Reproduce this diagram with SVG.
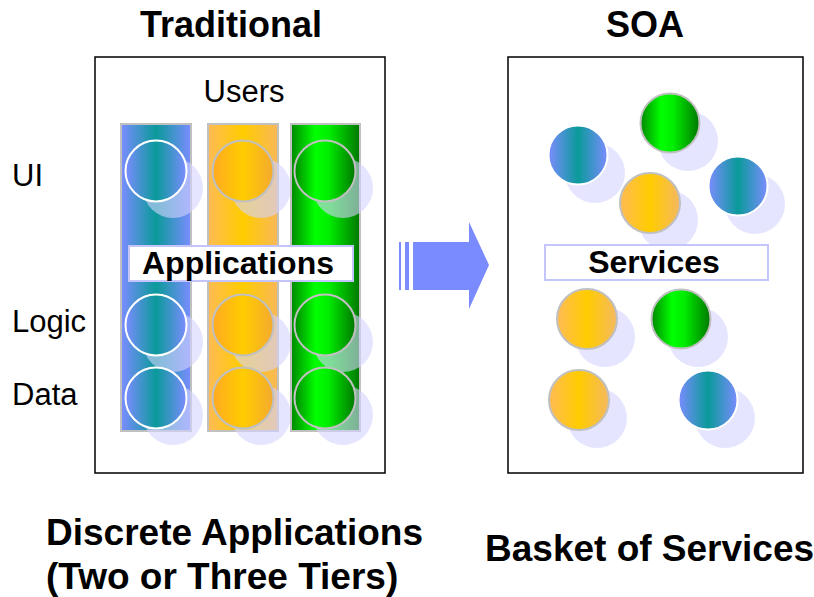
<svg xmlns="http://www.w3.org/2000/svg" width="814" height="597" viewBox="0 0 814 597">
  <defs>
    <linearGradient id="gBlue" x1="0" y1="0" x2="1" y2="0">
      <stop offset="0" stop-color="#7b8cff"/>
      <stop offset="0.5" stop-color="#0a9a9a"/>
      <stop offset="1" stop-color="#7b8cff"/>
    </linearGradient>
    <linearGradient id="gOrangeCol" x1="0" y1="0" x2="1" y2="0">
      <stop offset="0" stop-color="#ffbb55"/>
      <stop offset="0.5" stop-color="#ffcc00"/>
      <stop offset="1" stop-color="#f8b858"/>
    </linearGradient>
    <linearGradient id="gOrange" x1="0" y1="0" x2="1" y2="0">
      <stop offset="0" stop-color="#ffaa22"/>
      <stop offset="0.5" stop-color="#ffcc00"/>
      <stop offset="1" stop-color="#f4aa30"/>
    </linearGradient>
    <linearGradient id="gOrangeSoa" x1="0" y1="0" x2="1" y2="0">
      <stop offset="0" stop-color="#ffbb55"/>
      <stop offset="0.5" stop-color="#ffcc00"/>
      <stop offset="1" stop-color="#f4b860"/>
    </linearGradient>
    <linearGradient id="gGreen" x1="0" y1="0" x2="1" y2="0">
      <stop offset="0" stop-color="#008800"/>
      <stop offset="0.35" stop-color="#00ff00"/>
      <stop offset="0.55" stop-color="#00ee00"/>
      <stop offset="1" stop-color="#007700"/>
    </linearGradient>
    <circle id="shadow" r="30" fill="#d4d4ff" fill-opacity="0.6"/>
  </defs>
  <style>
    .title { font-family: "Liberation Sans", Arial, sans-serif; font-weight: bold; font-size: 36px; fill: #000; }
    .caption { font-family: "Liberation Sans", Arial, sans-serif; font-weight: bold; font-size: 37px; fill: #000; }
    .label { font-family: "Liberation Sans", Arial, sans-serif; font-size: 31px; fill: #000; }
    .boxlabel { font-family: "Liberation Sans", Arial, sans-serif; font-weight: bold; font-size: 32px; fill: #000; }
    .frame { fill: #fff; stroke: #000; stroke-width: 1.5; }
    .col { stroke: #c0c0c0; stroke-width: 2; }
    .cb { fill: url(#gBlue); stroke: #fff; stroke-width: 2; }
    .co { fill: url(#gOrange); stroke: #c0c0c0; stroke-width: 2; }
    .cos { fill: url(#gOrangeSoa); stroke: #c0c0c0; stroke-width: 2; }
    .cg { fill: url(#gGreen); stroke: #c0c0c0; stroke-width: 2; }
    .tag { fill: #fff; stroke: #c4c4ff; stroke-width: 2; }
  </style>

  <rect width="814" height="597" fill="#fff"/>

  <!-- headings -->
  <text class="title" x="231" y="37" text-anchor="middle">Traditional</text>
  <text class="title" x="645" y="37" text-anchor="middle">SOA</text>

  <!-- Traditional frame -->
  <g id="traditional">
    <rect class="frame" x="95" y="57" width="290" height="416"/>
    <text class="label" x="244" y="102" text-anchor="middle">Users</text>
    <g id="col-blue">
      <rect class="col" x="121" y="124" width="70" height="307" fill="url(#gBlue)"/>
      <use href="#shadow" x="173" y="188"/>
      <use href="#shadow" x="173" y="342"/>
      <use href="#shadow" x="173" y="415"/>
      <circle class="cb" cx="156" cy="171" r="30.5"/>
      <circle class="cb" cx="156" cy="325" r="30.5"/>
      <circle class="cb" cx="156" cy="398" r="30.5"/>
    </g>
    <g id="col-orange">
      <rect class="col" x="208" y="124" width="70" height="307" fill="url(#gOrangeCol)"/>
      <use href="#shadow" x="261" y="188"/>
      <use href="#shadow" x="261" y="342"/>
      <use href="#shadow" x="261" y="415"/>
      <circle class="co" cx="243" cy="171" r="30.5"/>
      <circle class="co" cx="243" cy="325" r="30.5"/>
      <circle class="co" cx="243" cy="398" r="30.5"/>
    </g>
    <g id="col-green">
      <rect class="col" x="291" y="124" width="69" height="307" fill="url(#gGreen)"/>
      <use href="#shadow" x="343" y="188"/>
      <use href="#shadow" x="343" y="342"/>
      <use href="#shadow" x="343" y="415"/>
      <circle class="cg" cx="325" cy="171" r="30.5"/>
      <circle class="cg" cx="325" cy="325" r="30.5"/>
      <circle class="cg" cx="325" cy="398" r="30.5"/>
    </g>
    <g id="applications">
      <rect class="tag" x="129" y="246" width="224" height="35"/>
      <text class="boxlabel" x="238" y="274" text-anchor="middle">Applications</text>
    </g>
  </g>

  <!-- tier labels -->
  <text class="label" x="12" y="186">UI</text>
  <text class="label" x="12" y="332">Logic</text>
  <text class="label" x="12" y="405">Data</text>

  <!-- transition arrow -->
  <g id="connectors" fill="#7a8aff">
    <rect x="399" y="242" width="2" height="48"/>
    <rect x="405" y="242" width="4" height="48"/>
    <polygon points="413,242 469,242 469,222 489,265 469,309 469,290 413,290"/>
  </g>

  <!-- SOA frame -->
  <g id="soa">
    <rect class="frame" x="508" y="57" width="295" height="416"/>
    <use href="#shadow" x="595" y="173"/>
    <use href="#shadow" x="688" y="141"/>
    <use href="#shadow" x="755" y="204"/>
    <use href="#shadow" x="605" y="337"/>
    <use href="#shadow" x="698" y="337"/>
    <use href="#shadow" x="597" y="418"/>
    <use href="#shadow" x="725" y="418"/>
    <use href="#shadow" x="668" y="220"/>
    <circle class="cb" cx="578" cy="155" r="29.5"/>
    <circle class="cg" cx="670" cy="123" r="29.5"/>
    <circle class="cb" cx="738" cy="186" r="29.5"/>
    <circle class="cos" cx="650" cy="203" r="30"/>
    <circle class="cos" cx="587" cy="319" r="30"/>
    <circle class="cg" cx="681" cy="319" r="29.5"/>
    <circle class="cos" cx="579" cy="400" r="30"/>
    <circle class="cb" cx="708" cy="400" r="29.5"/>
    <g id="services">
      <rect class="tag" x="545" y="245" width="223" height="35"/>
      <text class="boxlabel" x="654" y="273" text-anchor="middle">Services</text>
    </g>
  </g>

  <!-- captions -->
  <text class="caption" x="46" y="545">Discrete Applications</text>
  <text class="caption" x="46" y="589">(Two or Three Tiers)</text>
  <text class="caption" x="485" y="561">Basket of Services</text>
</svg>
